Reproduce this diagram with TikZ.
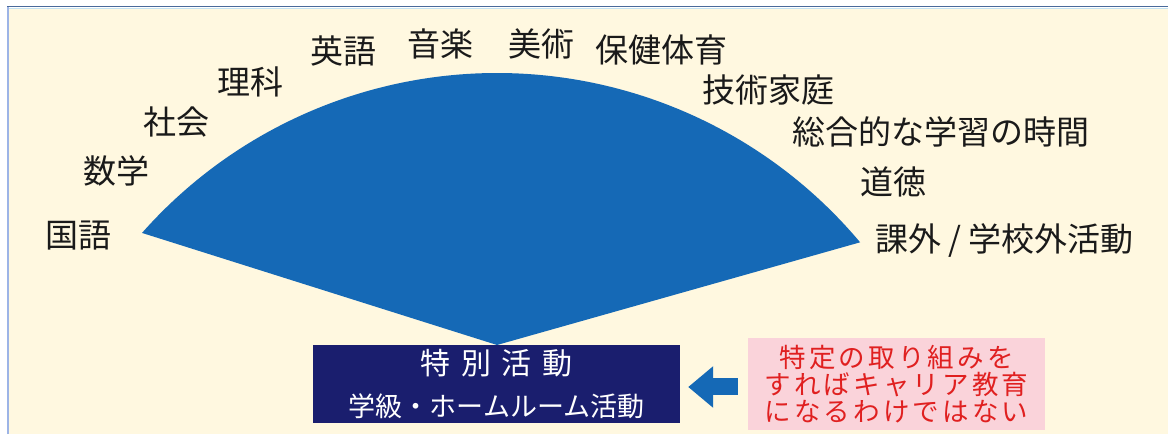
\documentclass[tikz,border=0pt]{standalone}
\usepackage{fontspec}
\usepackage{xcolor}
\setmainfont{Noto Sans CJK JP}
\newfontfamily\jpwide[LetterSpace=35]{Noto Sans CJK JP}
\newfontfamily\jpnote[LetterSpace=12]{Noto Sans CJK JP}
\usetikzlibrary{arrows.meta}

\begin{document}
\begin{tikzpicture}[x=1pt,y=1pt,
  subj/.style={anchor=west,inner sep=0pt,text=inkblack,font=\fontsize{33}{36}\selectfont},
  specbox/.style={fill=navy,text=white,inner sep=0pt,align=center,minimum width=367,minimum height=78,font=\fontsize{27}{42}\selectfont},
  notebox/.style={fill=notepink,text=notered,inner sep=0pt,align=center,minimum width=297,minimum height=92,font=\jpnote\fontsize{26.5}{27}\selectfont},
  bigarrow/.style={fanblue,line width=17,-{Triangle[length=25,width=40]},shorten >=8,shorten <=10}]
\definecolor{cream}{HTML}{FFF8E0}
\definecolor{fanblue}{HTML}{1569B6}
\definecolor{navy}{HTML}{1A1E6E}
\definecolor{notepink}{HTML}{FAD3DA}
\definecolor{notered}{HTML}{E02020}
\definecolor{inkblack}{HTML}{1A1A1A}
\definecolor{sideblue}{HTML}{9DB4E6}
\definecolor{frameblue}{HTML}{4A6A9A}
\definecolor{paleblue}{HTML}{C4E2F2}
\useasboundingbox (0,0) rectangle (1168,434);
\fill[white] (0,0) rectangle (1168,434);
\fill[cream] (8,0) rectangle (1168,426);
\draw[sideblue,line width=2] (8,0) -- (8,427);
\draw[frameblue,line width=1.5] (7,427.5) -- (1168,427.5);
\draw[paleblue,line width=1.5] (9,425.5) -- (1168,425.5);
\coordinate (hub) at (497,-113);
\coordinate (tip) at (497,89);
\fill[fanblue] (tip) -- ([shift={(138.5:474)}]hub) arc[start angle=138.5,end angle=40,radius=474] -- cycle;
  \foreach \nm/\txt/\x/\y in {kokugo/国語/45/198,sugaku/数学/83/263,shakai/社会/143/312,
    rika/理科/217/352,eigo/英語/310/383,ongaku/音楽/407/390,bijutsu/美術/508/390,
    hoken/保健体育/595/384,gika/技術家庭/702/344,sogo/総合的な学習の時間/792/302,
    dotoku/道徳/860/252,kagai/{課外 / 学校外活動}/875/193}
  {  \node [subj] (\nm) at (\x,\y) {\txt};}
\node [specbox] (tokkatsu) at (496.5,50) {{\jpwide\fontsize{30}{42}\selectfont 特別活動}\\学級・ホームルーム活動};
\node [notebox] (note) at (896.5,50) {特定の取り組みを\\すればキャリア教育\\になるわけではない};
\draw [bigarrow] ([yshift=-3]note.west) -- ([yshift=-3]tokkatsu.east);
\end{tikzpicture}
\end{document}
